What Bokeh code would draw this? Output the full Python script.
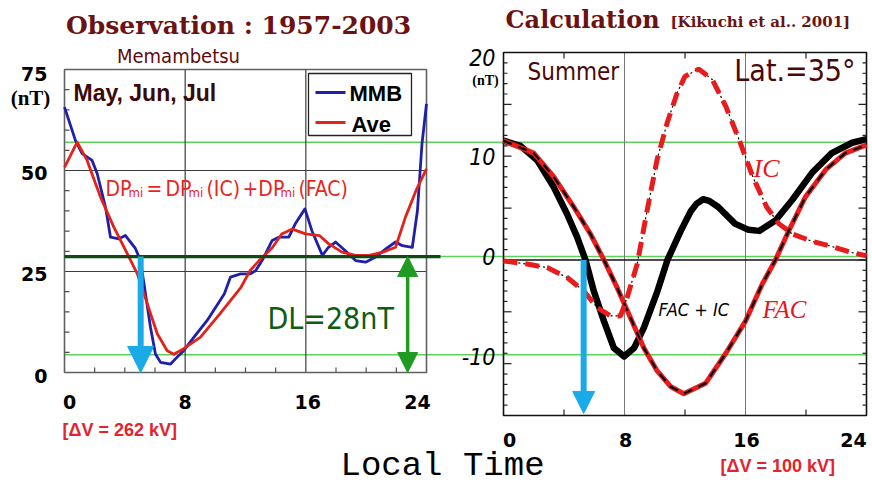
from bokeh.plotting import figure
from bokeh.models import Range1d, Arrow, NormalHead
from bokeh.core.properties import value
from bokeh.embed import file_html
from bokeh.resources import INLINE

# ---------------- data ----------------
hour_ticks = [0, 8, 16, 24]
obs_yticks = [0, 25, 50, 75]
calc_yticks = [-10, 0, 10, 20]

# Memambetsu observation (May-Jul), nT vs local time
mmb_hour = [0, 0.73, 1.17, 1.83, 2.17, 2.72, 3.05, 3.6, 4.04, 4.7, 5.04, 5.37, 5.7,
            6.03, 6.37, 7.03, 7.47, 7.9, 8.57, 9.46, 10.6, 11.0, 11.67, 12.3, 12.67,
            13.1, 13.77, 14.2, 14.87, 15.3, 15.94, 16.4, 17.1, 17.5, 17.97, 18.6,
            19.3, 19.96, 20.6, 21.3, 21.95, 22.4, 23.06, 23.4, 23.7, 24]
mmb_nt = [65.7, 57.4, 54.2, 52.5, 49.2, 40.9, 33.5, 33.1, 33.9, 30.7, 27.7, 19.5, 11.2,
          4.6, 2.5, 2.1, 3.8, 5.4, 8.7, 12.9, 19.5, 23.6, 24.4, 24.4, 25.2,
          27.7, 32.7, 33.5, 33.5, 36.8, 40.5, 35.1, 29.0, 31.0, 32.3, 30.2,
          27.7, 27.3, 28.5, 30.6, 32.3, 31.4, 31.0, 40.1, 56.6, 66.5]
ave_hour = [0, 0.84, 1.5, 2.39, 3.27, 4.16, 4.82, 5.48, 6.15, 6.81, 7.25, 7.9, 9.0,
            10.3, 11.7, 12.3, 12.9, 13.8, 14.4, 15.1, 15.98, 16.9, 17.5, 18.4, 19.3,
            20.2, 21.1, 21.95, 22.6, 23.3, 24]
ave_nt = [50.8, 57.0, 52.5, 43.4, 36.0, 29.4, 24.5, 17.1, 9.6, 5.4, 4.5, 5.9, 8.7,
          14.5, 21.1, 25.2, 27.7, 31.0, 34.3, 35.5, 34.3, 33.9, 31.9, 29.8, 29.0,
          29.0, 29.8, 31.0, 38.4, 45.0, 50.4]

# Model calculation (summer, 35 deg latitude)
total_hour = [0, 1.12, 2.23, 3.33, 4.21, 4.87, 5.42, 5.97, 6.64, 7.3, 7.97, 8.63, 9.29,
              10.18, 10.84, 11.72, 12.38, 12.75, 13.2, 13.6, 14.2, 15.3, 16.2, 16.9,
              17.98, 19.1, 20.4, 21.7, 23.05, 24]
total_nt = [11.5, 11.0, 9.6, 7.0, 4.4, 2.2, 0, -3.0, -5.9, -8.5, -9.3, -8.5, -6.5,
            -3.0, 0, 2.8, 4.7, 5.4, 5.85, 5.7, 5.1, 3.5, 2.9, 2.8,
            3.8, 5.8, 8.4, 10.3, 11.3, 11.65]
fac_hour = [0, 2.0, 3.33, 4.65, 5.75, 6.64, 7.52, 8.4, 9.28, 10.16, 11.04, 11.92,
            13.36, 14.7, 16.0, 17.1, 17.98, 18.86, 19.97, 21.3, 22.6, 24]
fac_nt = [11.5, 10.3, 8.0, 5.1, 2.5, 0, -2.7, -5.6, -8.5, -10.7, -12.2, -12.9,
          -11.9, -9.0, -5.9, -2.35, 0, 2.8, 6.1, 8.7, 10.3, 11.1]
ic_hour = [0, 1.57, 2.89, 4.21, 5.31, 6.2, 7.07, 7.74, 8.18, 8.84, 9.5, 10.16, 10.82,
           11.48, 12.0, 12.9, 13.8, 14.7, 15.6, 16.5, 17.4, 18.2, 19.1, 20.4, 21.7,
           23.05, 24]
ic_nt = [-0.1, -0.4, -0.74, -1.7, -3.0, -4.6, -5.4, -5.4, -3.6, -0.4, 4.8, 9.7, 13.2,
         16.1, 17.7, 18.4, 17.4, 14.8, 11.5, 7.95, 5.1, 3.5, 2.5, 1.8, 1.3,
         0.7, 0.4]

obs_levels = [57.0, 28.7, 4.4]   # guide levels on the observation scale
dl_level = 28.7
obs_onset_hour = 5.05
calc_onset_hour = 5.3
calc_arrow_bottom = -14.8
dl_arrow_hour = 22.75

# ---------------- layout ----------------
W, H = 872, 484
L_X0, L_X1, L_Y0, L_Y1 = 64, 426, 372, 69      # obs frame: 0..24 h, 0..75 nT
R_X0, R_X1, R_Y0, R_Y1 = 503, 866, 415, 52     # calc frame: 0..24 h, -15..20 nT
L_VMIN, L_VMAX = 0, 75
R_VMIN, R_VMAX = -15, 20


def panel_ranges(x0, x1, y0, y1, vmin, vmax):
    kx = (x1 - x0) / 24.0
    ky = (y0 - y1) / float(vmax - vmin)
    xr = Range1d(-x0 / kx, (W - x0) / kx)
    yr = Range1d(vmin - (H - y0) / ky, vmin + y0 / ky)
    return xr, yr, kx, ky


lxr, lyr, kxL, kyL = panel_ranges(L_X0, L_X1, L_Y0, L_Y1, L_VMIN, L_VMAX)
rxr, ryr, kxR, kyR = panel_ranges(R_X0, R_X1, R_Y0, R_Y1, R_VMIN, R_VMAX)

p = figure(width=W, height=H, x_range=Range1d(0, W), y_range=Range1d(H, 0),
           output_backend="svg", toolbar_location=None, min_border=0,
           x_axis_type=None, y_axis_type=None,
           background_fill_color="white", border_fill_color="white")
p.outline_line_color = None
p.title.visible = False
p.extra_x_ranges = {"L": lxr, "R": rxr}
p.extra_y_ranges = {"L": lyr, "R": ryr}
LK = dict(x_range_name="L", y_range_name="L")
RK = dict(x_range_name="R", y_range_name="R")

COND = "DejaVu Sans Condensed"
MAROON = "#6B1212"


def txt(x, y, s, size, color="black", font="Liberation Sans", style="normal",
        align="left", baseline="middle", x_offset=0, y_offset=0, **rk):
    items = [x, y, s, x_offset, y_offset]
    n = max(len(v) if isinstance(v, list) else 1 for v in items)
    x, y, s, xo, yo = [v if isinstance(v, list) else [v] * n for v in items]
    p.text(x=x, y=y, text=s, x_offset=xo, y_offset=yo,
           text_font=value(font), text_font_size=f"{size}px",
           text_font_style=style, text_color=color, text_align=align,
           text_baseline=baseline, **rk)


# ---------- shared green guide lines ----------
p.segment(x0=L_X0, x1=R_X1, y0=obs_levels, y1=obs_levels,
          line_color="#5BD35B", line_width=1.4, y_range_name="L")

# ---------- observation panel ----------
p.segment(x0=0, x1=24, y0=[25, 50], y1=[25, 50], line_color="#3C3C3C", line_width=1.2, **LK)
p.segment(x0=[8, 16], x1=[8, 16], y0=0, y1=75, line_color="#3C3C3C", line_width=1.2, **LK)
p.quad(left=0, right=24, bottom=0, top=75, fill_color=None, line_color="#606060",
       line_width=1.6, **LK)
ly_ticks = [v for v in range(5, 75, 5) if v not in (25, 50)]
p.segment(x0=0, x1=5 / kxL, y0=ly_ticks, y1=ly_ticks, line_color="#505050", line_width=1.2, **LK)
lx_ticks = [h for h in range(2, 24, 2) if h not in (8, 16)]
p.segment(x0=lx_ticks, x1=lx_ticks, y0=0, y1=5 / kyL, line_color="#505050", line_width=1.2, **LK)

p.line(mmb_hour, mmb_nt, line_color="#1F1FA8", line_width=2.8, line_join="round", **LK)
p.line(ave_hour, ave_nt, line_color="#E2231A", line_width=2.8, line_join="round", **LK)

p.segment(x0=0, x1=(440 - L_X0) / kxL, y0=dl_level, y1=dl_level,
          line_color="#0E4A12", line_width=3.2, **LK)

p.add_layout(Arrow(end=NormalHead(size=26, fill_color="#1AAAE8", line_color="#1AAAE8"),
                   x_start=obs_onset_hour, y_start=dl_level, x_end=obs_onset_hour, y_end=0,
                   line_color="#1AAAE8", line_width=6, **LK))
p.add_layout(Arrow(start=NormalHead(size=20, fill_color="#1F9B22", line_color="#1F9B22"),
                   end=NormalHead(size=20, fill_color="#1F9B22", line_color="#1F9B22"),
                   x_start=dl_arrow_hour, y_start=dl_level, x_end=dl_arrow_hour, y_end=0,
                   line_color="#1F9B22", line_width=3.5, **LK))

# legend box
p.quad(left=308, right=411, bottom=135, top=73, fill_color="white", line_color="#222222",
       line_width=1.3)
p.segment(x0=315, x1=345, y0=[92, 122], y1=[92, 122],
          line_color=["#1F1FA8", "#E2231A"], line_width=2.8)
txt(349, 93, "MMB", 22, style="bold")
txt(351, 124, "Ave", 22, style="bold")

# tick labels (observation)
txt(-17 / kxL, obs_yticks, [str(v) for v in obs_yticks], 19, font="DejaVu Sans",
    style="bold", align="right", y_offset=[3, 2, 2, 4], **LK)
txt(30, 97, "(nT)", 21, font="Liberation Serif", style="bold", align="center")
txt(hour_ticks, 0, [str(h) for h in hour_ticks], 19, font="DejaVu Sans", style="bold",
    align="center", y_offset=29, x_offset=[5, 0, 2, -9], **LK)

# annotations (observation)
txt(73, 92, "May, Jun, Jul", 23, color="#3A0808", style="bold")
eq_red = "#E8251E"
for s, x, size, yc in [("DP", 105, 21, 188), ("mi", 128, 13, 192), ("=", 146, 21, 188),
                       ("DP", 165, 21, 188), ("mi", 188, 13, 192), ("(IC)", 206, 21, 188),
                       ("+DP", 242, 21, 188), ("mi", 280, 13, 192), ("(FAC)", 298, 21, 188)]:
    txt(x, yc, s, size, color=eq_red, font=COND)
txt(267, 318, "DL=28nT", 30, color="#0D5C12", font=COND)
txt(62, 429, "[\u0394V = 262 kV]", 18, color="#E3242B", style="bold")

# ---------- calculation panel ----------
p.segment(x0=[8, 16], x1=[8, 16], y0=R_VMIN, y1=R_VMAX, line_color="#777777",
          line_width=1.0, **RK)
p.quad(left=0, right=24, bottom=R_VMIN, top=R_VMAX, fill_color=None, line_color="#111111",
       line_width=1.6, **RK)
p.segment(x0=0, x1=24, y0=0, y1=0, line_color="#111111", line_width=1.6, **RK)
ry_ticks = list(range(R_VMIN + 1, R_VMAX))
ry_len = [(8 if v % 5 == 0 else 4) / kxR for v in ry_ticks]
p.segment(x0=0, x1=ry_len, y0=ry_ticks, y1=ry_ticks, line_color="#222222", line_width=1.2, **RK)
p.segment(x0=24, x1=[24 - d for d in ry_len], y0=ry_ticks, y1=ry_ticks,
          line_color="#222222", line_width=1.2, **RK)
rx_ticks = [4, 12, 20]
p.segment(x0=rx_ticks, x1=rx_ticks, y0=R_VMIN, y1=R_VMIN + 6 / kyR, line_color="#222222",
          line_width=1.2, **RK)
p.segment(x0=rx_ticks, x1=rx_ticks, y0=R_VMAX, y1=R_VMAX - 6 / kyR, line_color="#222222",
          line_width=1.2, **RK)

p.line(total_hour, total_nt, line_color="black", line_width=6.5, line_join="round", **RK)
p.line(fac_hour, fac_nt, line_color="#E81C1C", line_width=5, line_join="round", **RK)
p.line(fac_hour, fac_nt, line_color="black", line_width=2.2, line_dash="9 7", **RK)
p.line(ic_hour, ic_nt, line_color="black", line_width=1.2, line_dash="2 3", **RK)
p.line(ic_hour, ic_nt, line_color="#E81C1C", line_width=5, line_dash="14 8", **RK)

p.add_layout(Arrow(end=NormalHead(size=22, fill_color="#1AAAE8", line_color="#1AAAE8"),
                   x_start=calc_onset_hour, y_start=0, x_end=calc_onset_hour,
                   y_end=calc_arrow_bottom, line_color="#1AAAE8", line_width=6, **RK))

# tick labels (calculation)
txt(-8 / kxR, calc_yticks, [str(v) for v in calc_yticks], 23, font=COND,
    style="italic", align="right", y_offset=[-7, -3, 0, 5], **RK)
txt(485, 80, "(nT)", 14, font="Liberation Serif", style="bold", align="center")
txt(hour_ticks, R_VMIN, [str(h) for h in hour_ticks], 19, font="DejaVu Sans",
    style="bold", align="center", y_offset=24, x_offset=[6, 1, 1, -13], **RK)

# annotations (calculation)
txt(527, 71, "Summer", 24, color="#4A0808", font=COND)
txt(855, 70, "Lat.=35\u00b0", 30, color="#4A0808", font=COND, align="right")
txt(753, 168, "IC", 26, color="#E8161E", font="Liberation Serif", style="italic")
txt(762, 309, "FAC", 25, color="#E8161E", font="Liberation Serif", style="italic")
txt(658, 309, "FAC + IC", 18, font=COND, style="italic")
txt(720, 465, "[\u0394V = 100 kV]", 18, color="#E3242B", style="bold")

# ---------- titles ----------
txt(238, 25, "Observation : 1957-2003", 25, color=MAROON, font="DejaVu Serif",
    style="bold", align="center")
txt(178, 55, "Memambetsu", 20, color="#5E0C0C", font=COND, align="center")
txt(505, 19, "Calculation", 24, color=MAROON, font="DejaVu Serif", style="bold")
txt(670, 21, "[Kikuchi et al.. 2001]", 15, color=MAROON, font="DejaVu Serif", style="bold")
txt(340, 465, "Local Time", 34, font="Liberation Mono")

open("out.html", "w").write(file_html(p, INLINE))
